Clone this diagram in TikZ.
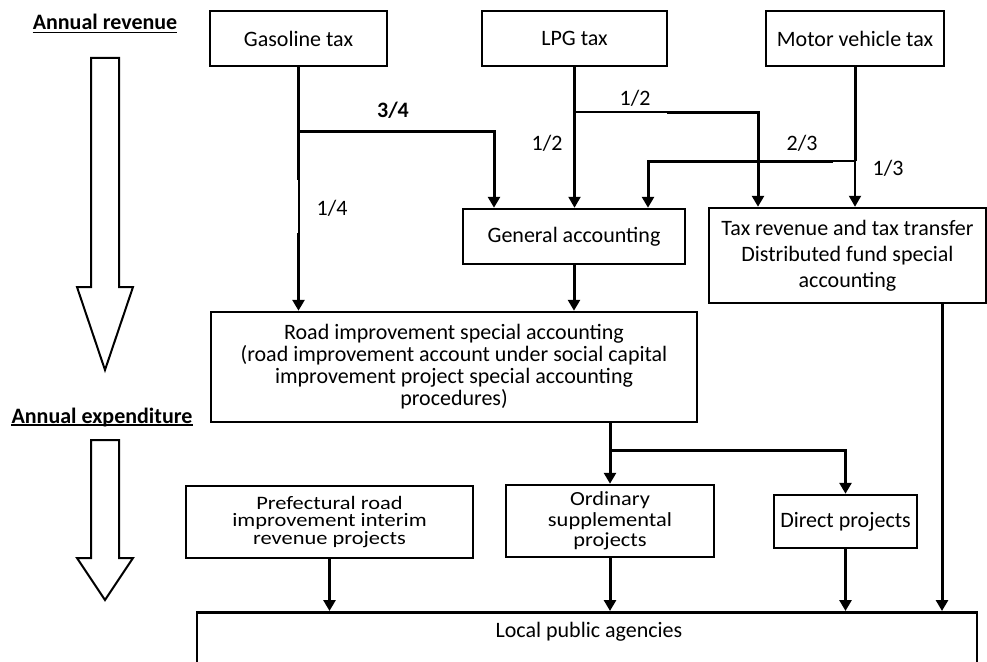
\documentclass[tikz,border=0pt]{standalone}
\usepackage{fontspec}
\setmainfont{Carlito}
\newfontfamily\widefont{Carlito}[FakeStretch=1.18]
\newfontfamily\semiwidefont{Carlito}[FakeStretch=1.12]
\usetikzlibrary{arrows.meta}
\lineskiplimit=-100pt
\lineskip=0pt
\tikzset{
  every node/.style={inner sep=0pt, font=\fontsize{22}{26}\selectfont},
  box/.style={draw, line width=2.5pt, align=center},
  conn/.style={line width=3pt},
  thinconn/.style={line width=2pt},
  midconn/.style={line width=2.3pt},
  tip/.style={-{Triangle[width=12pt,length=11pt]}},
  boldlabel/.style={font=\fontsize{22}{26}\selectfont\bfseries},
  bigarrow/.style={draw, line width=2pt, line join=miter},
  uline/.style={line width=1.5pt},
}
\begin{document}
\begin{tikzpicture}[x=1pt,y=-1pt]
\useasboundingbox (0,0) rectangle (987,661);

% headings
\node[boldlabel, anchor=base] (rev) at (105,30) {Annual revenue};
\draw[uline] ([yshift=-2.5pt]rev.base west) -- ([yshift=-2.5pt]rev.base east);
\node[boldlabel, anchor=base] (exp) at (102,423) {Annual expenditure};
\draw[uline] ([yshift=-2pt]exp.base west) -- ([yshift=-2pt]exp.base east);

% big hollow arrows
\draw[bigarrow] (91,58) -- (119,58) -- (119,287) -- (133,287) -- (105,370) -- (77,287) -- (91,287) -- cycle;
\draw[bigarrow] (91,440) -- (119,440) -- (119,558) -- (133,558) -- (105,600) -- (77,558) -- (91,558) -- cycle;

% boxes
\node[box, minimum width=177pt, minimum height=55pt] (gas) at (298.5,38.5) {Gasoline tax};
\node[box, minimum width=185pt, minimum height=55pt] (lpg) at (574.5,38.5) {LPG tax};
\node[box, minimum width=178pt, minimum height=55pt] (mv) at (855,38.5) {Motor vehicle tax};
\node[box, minimum width=222pt, minimum height=55pt] (ga) at (574,236.5) {General accounting};
\node[box, minimum width=277pt, minimum height=95pt, font=\fontsize{22}{26}\selectfont] (tax) at (847.5,255.5)
  {Tax revenue and tax transfer\\Distributed fund special\\accounting};
\node[box, minimum width=486pt, minimum height=110pt, font=\fontsize{22}{22}\selectfont] (road) at (454,367)
  {Road improvement special accounting\\(road improvement account under social capital\\improvement project special accounting\\procedures)};
\node[box, minimum width=287pt, minimum height=72pt, font=\widefont\fontsize{19}{17.5}\selectfont] (pref) at (329.5,522)
  {Prefectural road\\improvement interim\\revenue projects};
\node[box, minimum width=208pt, minimum height=72pt, font=\semiwidefont\fontsize{20}{20.5}\selectfont] (ord) at (610,521)
  {Ordinary\\supplemental\\projects};
\node[box, minimum width=143pt, minimum height=53pt] (dir) at (845.5,521.5) {Direct projects};
\node[box, minimum width=780pt, minimum height=100pt, anchor=north] (local) at (587,611) {};
\node (localtext) at (589,632) {Local public agencies};

% fraction labels
\node[boldlabel] (f34) at (393,110) {3/4};
\node (f14) at (332,208) {1/4};
\node (f12a) at (547,143) {1/2};
\node (f12b) at (635,98) {1/2};
\node (f23) at (802,143) {2/3};
\node (f13) at (888,168) {1/3};

% gasoline tax
\coordinate (g1) at (298.5,131);
\coordinate (g2) at (298.5,180);
\coordinate (g3) at (298.5,233);
\coordinate (g4) at (494,131);
\draw[conn] (gas.south) -- (g2);
\draw[thinconn] (g2) -- (g3);
\draw[conn,tip] (g3) -- (g3 |- road.north);
\draw[conn,tip] (g1) -- (g4) -- (g4 |- ga.north);

% LPG tax
\coordinate (l1) at (574.5,112);
\coordinate (l2) at (574.5,127);
\coordinate (l3) at (667,112);
\coordinate (l4) at (758,112);
\draw[conn] (lpg.south) -- (l2);
\draw[midconn,tip] (l2) -- (l2 |- ga.north);
\draw[thinconn] (l1) -- (l3);
\draw[conn,tip] (l3) -- (l4) -- (l4 |- tax.north);

% motor vehicle tax
\coordinate (m1) at (855,161);
\coordinate (m2) at (833,161);
\coordinate (m3) at (648,161);
\draw[conn] (mv.south) -- (m1);
\draw[thinconn,tip] (m1) -- (m1 |- tax.north);
\draw[thinconn] (m1) -- (m2);
\draw[conn,tip] (m2) -- (m3) -- (m3 |- ga.north);

% general accounting to road
\draw[conn,tip] (ga.south) -- (ga.south |- road.north);

% road to projects
\coordinate (r1) at (610,450);
\draw[conn,tip] (ord.north |- road.south) -- (ord.north);
\draw[conn,tip] (r1) -- (r1 -| dir.north) -- (dir.north);

% to local public agencies
\coordinate (t1) at (942,0);
\draw[conn,tip] (pref.south) -- (pref.south |- local.north);
\draw[conn,tip] (ord.south) -- (ord.south |- local.north);
\draw[conn,tip] (dir.south) -- (dir.south |- local.north);
\draw[conn,tip] (t1 |- tax.south) -- (t1 |- local.north);
\end{tikzpicture}
\end{document}
